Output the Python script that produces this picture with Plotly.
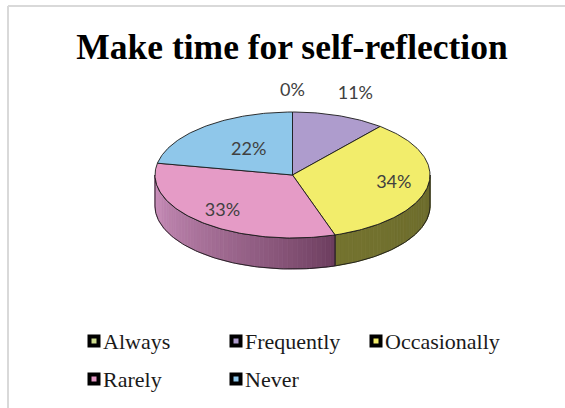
import numpy as np
import plotly.graph_objects as go

# ---------------- data ----------------
categories = ["Always", "Frequently", "Occasionally", "Rarely", "Never"]
percent = [0, 11, 34, 33, 22]
title_text = "Make time for self-reflection"

# ---------------- style ----------------
top_colors = ["#cddc8e", "#ae9ccd", "#f2ed6b", "#e59bc6", "#8fc7ea"]
side_colors = [("#9bb35a", "#9bb35a"), ("#6b5a86", "#6b5a86"),
               ("#6a692b", "#74732f"), ("#6a3b5c", "#cd92be"),
               ("#5a8fb2", "#5a8fb2")]
label_r = [1.33, 1.35, 0.75, 0.77, 0.5]   # label radius factor per slice
CX, CY, RX, RY, DEPTH = 292.5, 175.0, 137.5, 63.0, 31.0
W, H = 565, 408
legend_cols = [94, 236, 376]
legend_rows = [341, 379]


def pt(theta_deg, dy=0.0):
    t = np.radians(theta_deg)
    return CX + RX * np.sin(t), CY - RY * np.cos(t) + dy


def mix(c0, c1, f):
    a = [int(c0[i:i + 2], 16) for i in (1, 3, 5)]
    b = [int(c1[i:i + 2], 16) for i in (1, 3, 5)]
    return "rgb(%d,%d,%d)" % tuple(round(a[k] + (b[k] - a[k]) * f) for k in range(3))


fig = go.Figure()
total = float(sum(percent))
starts = np.cumsum([0] + percent[:-1]) / total * 360.0
ends = starts + np.array(percent) / total * 360.0
n = len(categories)

# side walls (front half only)
for i in range(n):
    a0, a1 = max(starts[i], 90.0), min(ends[i], 270.0)
    if a1 - a0 <= 0.01:
        continue
    nstrip = max(2, int((a1 - a0) / 2))
    edges = np.linspace(a0, a1, nstrip + 1)
    c0, c1 = side_colors[i]
    for k in range(nstrip):
        f = ((k + 0.5) / nstrip) ** 0.8
        col = mix(c0, c1, f)
        th = np.linspace(edges[k], edges[k + 1], 4)
        xt, yt = pt(th)
        xs = np.concatenate([xt, xt[::-1], xt[:1]])
        ys = np.concatenate([yt, yt[::-1] + DEPTH, yt[:1]])
        fig.add_trace(go.Scatter(x=xs, y=ys, fill="toself", fillcolor=col,
                                 line=dict(color=col, width=0.8), mode="lines",
                                 hoverinfo="skip", showlegend=False))
    th = np.linspace(a0, a1, 80)
    xt, yt = pt(th)
    xs = np.concatenate([xt, xt[::-1], xt[:1]])
    ys = np.concatenate([yt, yt[::-1] + DEPTH, yt[:1]])
    fig.add_trace(go.Scatter(x=xs, y=ys, mode="lines",
                             line=dict(color="#1a1a1a", width=0.9),
                             hoverinfo="skip", showlegend=False))

# top faces
for i in range(n):
    if percent[i] <= 0:
        continue
    th = np.linspace(starts[i], ends[i], max(10, int(ends[i] - starts[i])))
    xt, yt = pt(th)
    xs = np.concatenate([[CX], xt, [CX]])
    ys = np.concatenate([[CY], yt, [CY]])
    fig.add_trace(go.Scatter(x=xs, y=ys, fill="toself", fillcolor=top_colors[i],
                             line=dict(color="#1a1a1a", width=0.9), mode="lines",
                             name=categories[i], hoverinfo="name", showlegend=False))

# percentage labels
mids = (starts + ends) / 2.0
lx, ly = [], []
for i in range(n):
    t = np.radians(mids[i])
    lx.append(CX + RX * label_r[i] * np.sin(t))
    ly.append(CY - RY * label_r[i] * np.cos(t))
fig.add_trace(go.Scatter(x=lx, y=ly, mode="text",
                         text=["%d%%" % v for v in percent],
                         textfont=dict(family="Lato", size=18, color="#404040"),
                         hoverinfo="skip", showlegend=False))

# legend (manual)
mx = [legend_cols[i % 3] for i in range(n)]
my = [legend_rows[i // 3] for i in range(n)]
fig.add_trace(go.Scatter(x=mx, y=my, mode="markers",
                         marker=dict(symbol="square", size=9, color=top_colors,
                                     line=dict(color="#000000", width=4)),
                         hoverinfo="skip", showlegend=False))
for i in range(n):
    fig.add_annotation(x=mx[i] + 7, y=my[i], text=categories[i], showarrow=False,
                       xanchor="left", yanchor="middle",
                       font=dict(family="Liberation Serif", size=22, color="#1a1a1a"))

# chart border
fig.add_shape(type="line", xref="x", yref="y", x0=8, x1=W, y0=6, y1=6,
              line=dict(color="#d9d9d9", width=2))
fig.add_shape(type="line", xref="x", yref="y", x0=8, x1=8, y0=6, y1=H,
              line=dict(color="#d9d9d9", width=2))

fig.update_layout(
    width=W, height=H, autosize=False,
    margin=dict(l=0, r=0, t=0, b=0),
    paper_bgcolor="white", plot_bgcolor="white",
    title=dict(text="<b>" + title_text + "</b>", x=292 / W, xanchor="center",
               y=1 - 47 / H, yanchor="middle",
               font=dict(family="Liberation Serif", size=35.5, color="#000000")),
    xaxis=dict(range=[0, W], visible=False, fixedrange=True),
    yaxis=dict(range=[H, 0], visible=False, fixedrange=True),
)

fig.write_html("out.html")
